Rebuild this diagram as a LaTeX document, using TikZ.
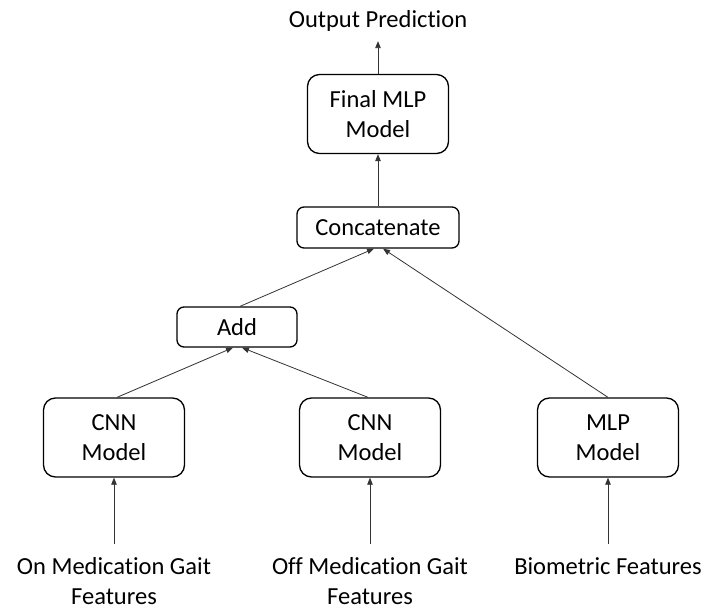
\documentclass[tikz,border=0pt]{standalone}
\usepackage{fontspec}
\setmainfont{Carlito}[Ligatures=NoCommon]
\usetikzlibrary{arrows.meta}
\begin{document}
\begin{tikzpicture}[x=1pt,y=-1pt,
  box/.style={draw=black, line width=1.3pt, rounded corners=12pt, minimum width=141pt, minimum height=79pt, inner sep=0pt, align=center, font=\fontsize{24.5}{30}\selectfont},
  sbox/.style={draw=black, line width=1.3pt, rounded corners=7pt, inner sep=0pt, align=center, font=\fontsize{24.5}{30}\selectfont},
  lbl/.style={inner sep=0pt, align=center, font=\fontsize{24.5}{30}\selectfont},
  arr/.style={draw=black!80, line width=0.8pt, -{Triangle[length=7pt,width=5.5pt]}}]
\useasboundingbox (0,0) rectangle (705,610);

\node[box] (fmlp) at (378,114) {Final MLP\\Model};
\node[sbox, minimum width=162pt, minimum height=41pt] (concat) at (378,227.5) {Concatenate};
\node[sbox, minimum width=120pt, minimum height=40pt] (add) at (237,327) {Add};
\node[box] (cnn1) at (114,437.5) {CNN\\Model};
\node[box] (cnn2) at (370,437.5) {CNN\\Model};
\node[box] (mlp) at (608,437.5) {MLP\\Model};

\node[lbl, anchor=base] (out) at (378,28) {Output Prediction};
\node[lbl, anchor=north] (onmed) at (114,557) {On Medication Gait\\Features};
\node[lbl, anchor=north] (offmed) at (370,557) {Off Medication Gait\\Features};
\node[lbl, anchor=north] (bio) at (608,557) {Biometric Features};

\draw[arr, shorten >=9pt] (fmlp.north) -- (out.south);
\draw[arr] (concat.north) -- (fmlp.south);
\draw[arr] ([xshift=3pt]add.north) -- ([xshift=-4pt]concat.south);
\draw[arr] (mlp.north) -- ([xshift=5pt]concat.south);
\draw[arr] ([xshift=3pt]cnn1.north) -- ([xshift=-4pt]add.south);
\draw[arr] ([xshift=-2pt]cnn2.north) -- ([xshift=5pt]add.south);
\draw[arr, shorten <=13pt] (onmed.north) -- (cnn1.south);
\draw[arr, shorten <=13pt] (offmed.north) -- (cnn2.south);
\draw[arr, shorten <=13pt] (bio.north) -- (mlp.south);
\end{tikzpicture}
\end{document}
